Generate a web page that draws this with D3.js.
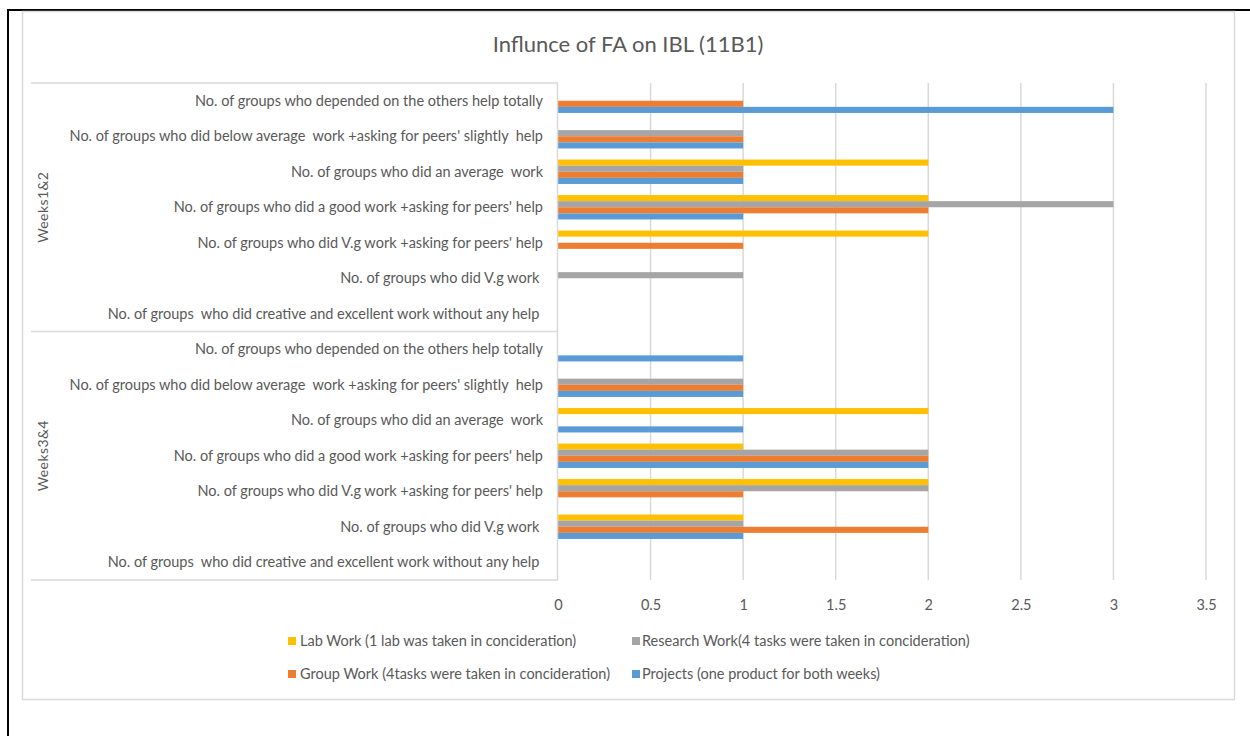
<!DOCTYPE html>
<html>
<head>
<meta charset="utf-8">
<script src="https://cdn.jsdelivr.net/npm/d3@7"></script>
<style>
  html, body { margin: 0; padding: 0; background: #fff; }
  svg { display: block; }
  text { font-family: Lato, "Open Sans", sans-serif; fill: #595959; }
</style>
</head>
<body>
<svg id="chart" width="1250" height="736"></svg>
<script>
// Chart title
const title = "Influnce of FA on IBL (11B1)";

// Outer level of the category axis
const groups = ["Weeks1&2", "Weeks3&4"];

// Inner level, listed top to bottom within each group
const categories = [
  "No. of groups who depended on the others help totally",
  "No. of groups who did below average  work +asking for peers' slightly  help",
  "No. of groups who did an average  work",
  "No. of groups who did a good work +asking for peers' help",
  "No. of groups who did V.g work +asking for peers' help",
  "No. of groups who did V.g work ",
  "No. of groups  who did creative and excellent work without any help "
];

// Series names (legend order)
const seriesNames = [
  "Lab Work (1 lab was taken in concideration)",
  "Research Work(4 tasks were taken in concideration)",
  "Group Work (4tasks were taken in concideration)",
  "Projects (one product for both weeks)"
];

// Values per series: Weeks1&2 rows followed by Weeks3&4 rows, top to bottom
const labWork      = [0, 0, 2, 2, 2, 0, 0,   0, 0, 2, 1, 2, 1, 0];
const researchWork = [0, 1, 1, 3, 0, 1, 0,   0, 1, 0, 2, 2, 1, 0];
const groupWork    = [1, 1, 1, 2, 1, 0, 0,   0, 1, 0, 2, 1, 2, 0];
const projects     = [3, 1, 1, 1, 0, 0, 0,   1, 1, 1, 2, 0, 1, 0];

// Value axis ticks
const xTicks = [0, 0.5, 1, 1.5, 2, 2.5, 3, 3.5];

const colors = ["#FFC000", "#A5A5A5", "#ED7D31", "#5B9BD5"];
const seriesValues = [labWork, researchWork, groupWork, projects];

const svg = d3.select("#chart");

// Page frame lines
svg.append("path")
  .attr("d", "M8,736 L8,10 L1250,10")
  .attr("fill", "none").attr("stroke", "#000").attr("stroke-width", 2);

// Chart area border
svg.append("rect")
  .attr("x", 22.5).attr("y", 11.5).attr("width", 1212).attr("height", 688)
  .attr("fill", "#fff").attr("stroke", "#D9D9D9").attr("stroke-width", 1.5);

svg.append("text")
  .attr("x", 628).attr("y", 52)
  .attr("text-anchor", "middle")
  .style("font-size", "22px")
  .text(title);

const plot = { left: 558, right: 1206, top: 83, bottom: 580 };

const x = d3.scaleLinear().domain([0, 3.5]).range([plot.left, plot.right]);

// One row per (group, category) pair
const rows = [];
groups.forEach((g, gi) => categories.forEach((c, ci) => rows.push({ key: gi + "|" + ci, group: g, label: c, idx: gi * categories.length + ci })));

const gap = 1.82 / (4 + 1.82);
const y = d3.scaleBand()
  .domain(rows.map(r => r.key))
  .range([plot.top, plot.bottom])
  .paddingInner(gap)
  .paddingOuter(gap / 2);

const ySeries = d3.scaleBand()
  .domain(d3.range(seriesNames.length))
  .range([0, y.bandwidth()]);

// Vertical gridlines
svg.append("g")
  .selectAll("line")
  .data(xTicks.slice(1))
  .join("line")
  .attr("x1", d => x(d)).attr("x2", d => x(d))
  .attr("y1", plot.top).attr("y2", plot.bottom)
  .attr("stroke", "#D9D9D9").attr("stroke-width", 1.5);

// Value axis labels
const xAxis = d3.axisBottom(x).tickValues(xTicks).tickSize(0).tickPadding(0)
  .tickFormat(d => String(d));
const xg = svg.append("g").attr("transform", `translate(0,${plot.bottom + 30})`).call(xAxis);
xg.select(".domain").remove();
xg.selectAll("text").style("font-size", "14.5px").style("fill", "#595959")
  .style("font-family", "Lato, 'Open Sans', sans-serif").attr("dy", 0);

// Bars
seriesValues.forEach((vals, si) => {
  svg.append("g")
    .selectAll("rect")
    .data(rows.filter(r => vals[r.idx] > 0))
    .join("rect")
    .attr("x", x(0))
    .attr("y", r => y(r.key) + ySeries(si))
    .attr("width", r => x(vals[r.idx]) - x(0))
    .attr("height", ySeries.bandwidth())
    .attr("fill", colors[si]);
});

// Category axis: axis line and group separators
const step = y.step();
svg.append("line")
  .attr("x1", plot.left - 0.5).attr("x2", plot.left - 0.5)
  .attr("y1", plot.top).attr("y2", plot.bottom)
  .attr("stroke", "#D9D9D9").attr("stroke-width", 1.5);
const sepYs = [plot.top, plot.top + step * categories.length, plot.bottom];
svg.append("g").selectAll("line").data(sepYs).join("line")
  .attr("x1", 31).attr("x2", plot.left)
  .attr("y1", d => d).attr("y2", d => d)
  .attr("stroke", "#D9D9D9").attr("stroke-width", 1.5);

// Inner category labels
svg.append("g").selectAll("text").data(rows).join("text")
  .attr("x", 543)
  .attr("y", r => y(r.key) + y.bandwidth() / 2 + 5)
  .attr("text-anchor", "end")
  .style("font-size", "14.5px")
  .style("white-space", "pre")
  .text(r => r.label);

// Outer group labels, rotated
groups.forEach((g, gi) => {
  const cy = plot.top + step * categories.length * (gi + 0.5);
  svg.append("text")
    .attr("transform", `translate(48,${cy}) rotate(-90)`)
    .attr("text-anchor", "middle")
    .style("font-size", "14px")
    .style("letter-spacing", "0.4px")
    .text(g);
});

// Legend: two columns, two rows
const legendPos = [
  { sx: 288, tx: 300, y: 641 },
  { sx: 632, tx: 642, y: 641 },
  { sx: 288, tx: 300, y: 674 },
  { sx: 632, tx: 642, y: 674 }
];
const legend = svg.append("g").selectAll("g").data(seriesNames).join("g");
legend.append("rect")
  .attr("x", (d, i) => legendPos[i].sx)
  .attr("y", (d, i) => legendPos[i].y - 4)
  .attr("width", 8).attr("height", 8)
  .attr("fill", (d, i) => colors[i]);
legend.append("text")
  .attr("x", (d, i) => legendPos[i].tx)
  .attr("y", (d, i) => legendPos[i].y + 5)
  .style("font-size", "14.5px")
  .text(d => d);
</script>
</body>
</html>
